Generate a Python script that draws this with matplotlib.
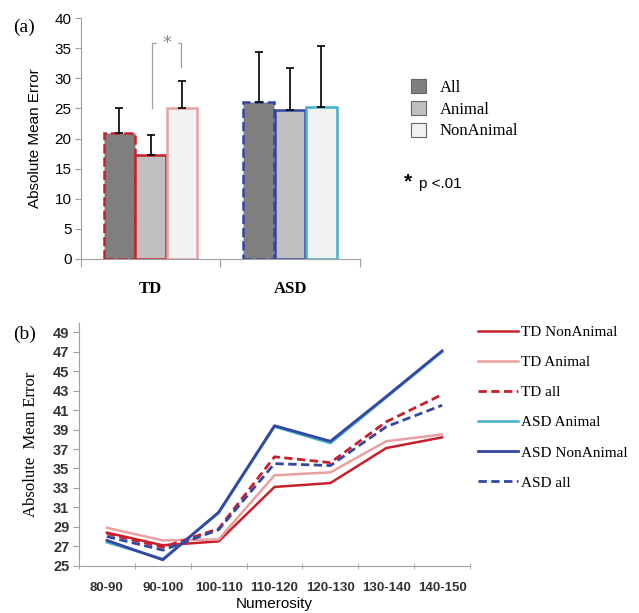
import numpy as np
import matplotlib
matplotlib.use("Agg")
import matplotlib.pyplot as plt
import matplotlib.patches as patches

# panel (a) data
groups = ["TD", "ASD"]
conditions = ["All", "Animal", "NonAnimal"]
means = {
    "All": [20.9, 26.0],
    "Animal": [17.2, 24.8],
    "NonAnimal": [25.0, 25.3],
}
errors = {
    "All": [4.1, 8.3],
    "Animal": [3.4, 6.9],
    "NonAnimal": [4.5, 10.0],
}

# panel (b) data
numerosity = ["80-90", "90-100", "100-110", "110-120", "120-130", "130-140", "140-150"]
td_nonanimal = [28.4, 27.1, 27.5, 33.1, 33.5, 37.1, 38.2]
td_animal = [28.9, 27.6, 27.7, 34.3, 34.6, 37.8, 38.5]
td_all = [28.3, 26.9, 28.8, 36.2, 35.6, 39.8, 42.6]
asd_animal = [27.4, 25.7, 30.4, 39.3, 37.6, 42.3, 47.0]
asd_nonanimal = [27.6, 25.6, 30.5, 39.4, 37.8, 42.4, 47.1]
asd_all = [28.0, 26.6, 28.7, 35.5, 35.3, 39.3, 41.5]

RED = "#c8202a"
PINK = "#e8a0a0"
BLUE = "#3547a0"
CYAN = "#3fb0d0"
GRAY = "#a0a0a0"
SERIF = "Liberation Serif"
SANS = "Liberation Sans"

fig = plt.figure(figsize=(6.39, 6.13), dpi=100)

# ---------- panel (a) ----------
ax1 = fig.add_axes([0.127, 0.5775, 0.436, 0.393])
fills = {"All": "#7f7f7f", "Animal": "#c0c0c0", "NonAnimal": "#f2f2f2"}
edges = {
    "All": [(RED, "--"), (BLUE, "--")],
    "Animal": [(RED, "-"), (BLUE, "-")],
    "NonAnimal": [(PINK, "-"), (CYAN, "-")],
}
offsets = {"All": -0.225, "Animal": 0.0, "NonAnimal": 0.225}
width = 0.22
x = np.arange(len(groups))
for cond in conditions:
    for i in range(len(groups)):
        ec, ls = edges[cond][i]
        ax1.bar(x[i] + offsets[cond], means[cond][i], width=width, color=fills[cond],
                edgecolor=ec, linestyle=ls, linewidth=1.8, zorder=2)
        ax1.errorbar(x[i] + offsets[cond], means[cond][i], yerr=[[0], [errors[cond][i]]],
                     fmt="none", ecolor="black", elinewidth=1.2, capsize=3, capthick=1.2, zorder=3)

# significance bracket TD Animal vs NonAnimal
bx0, bx1, btop = 0.01, 0.22, 35.8
ax1.plot([bx0, bx0, bx1, bx1], [25.0, btop, btop, 31.8], color=GRAY, lw=0.9, zorder=1)
ax1.text((bx0 + bx1) / 2, btop, "*", ha="center", va="center", fontsize=13, color="#888888",
         backgroundcolor="white", zorder=4)

ax1.set_xlim(-0.5, 1.5)
ax1.set_ylim(0, 40)
ax1.set_yticks(range(0, 41, 5))
ax1.set_xticks([-0.5, 0.5, 1.5])
ax1.set_xticklabels([])
ax1.tick_params(axis="x", length=6, color=GRAY, direction="out")
ax1.tick_params(axis="y", length=4, color=GRAY, labelsize=11, pad=3)
for lab in ax1.get_yticklabels():
    lab.set_family(SANS)
for i, g in enumerate(groups):
    ax1.text(x[i], -3.6, g, ha="center", va="top", fontsize=12, fontweight="bold", family=SERIF)
ax1.spines["top"].set_visible(False)
ax1.spines["right"].set_visible(False)
ax1.spines["left"].set_color(GRAY)
ax1.spines["bottom"].set_color(GRAY)
ax1.set_ylabel("Absolute Mean Error", fontsize=11, family=SANS, labelpad=9)

handles_a = [patches.Patch(facecolor=fills[c], edgecolor="#666666", linewidth=0.8) for c in conditions]
fig.legend(handles_a, conditions, loc="upper left", bbox_to_anchor=(0.62, 0.895),
           frameon=False, prop={"family": SERIF, "size": 12}, handlelength=0.9,
           handleheight=0.9, handletextpad=0.8, labelspacing=0.3)
fig.text(0.632, 0.703, "*", fontsize=15, fontweight="bold", family=SANS, va="center")
fig.text(0.656, 0.700, "p <.01", fontsize=11, family=SANS, va="center")
fig.text(0.02, 0.955, "(a)", fontsize=14, family=SERIF, va="center")

# ---------- panel (b) ----------
ax2 = fig.add_axes([0.1236, 0.0772, 0.612, 0.3964])
xi = np.arange(len(numerosity))
ax2.plot(xi, td_nonanimal, color=RED, lw=1.8, label="TD NonAnimal")
ax2.plot(xi, td_animal, color=PINK, lw=1.8, label="TD Animal")
ax2.plot(xi, td_all, color=RED, lw=2.0, ls=(0, (3, 1.6)), label="TD all")
ax2.plot(xi, asd_animal, color=CYAN, lw=1.8, label="ASD Animal")
ax2.plot(xi, asd_nonanimal, color=BLUE, lw=2.0, label="ASD NonAnimal")
ax2.plot(xi, asd_all, color=BLUE, lw=2.0, ls=(0, (3, 1.6)), label="ASD all")

ax2.set_xlim(-0.5, len(numerosity) - 0.5)
ax2.set_ylim(25, 50)
ax2.set_yticks(range(25, 50, 2))
ax2.set_xticks(xi)
ax2.set_xticklabels(numerosity)
ax2.set_xticks(np.arange(-0.5, len(numerosity)), minor=True)
ax2.tick_params(axis="x", which="major", length=0, labelsize=9.5, pad=12)
ax2.tick_params(axis="x", which="minor", length=5, color=GRAY, direction="inout")
ax2.tick_params(axis="y", length=4, color=GRAY, labelsize=10.5, pad=3)
for lab in ax2.get_xticklabels() + ax2.get_yticklabels():
    lab.set_family(SANS)
    lab.set_fontweight("bold")
    lab.set_color("#333333")
ax2.spines["top"].set_visible(False)
ax2.spines["right"].set_visible(False)
ax2.spines["left"].set_color(GRAY)
ax2.spines["bottom"].set_color(GRAY)
ax2.set_xlabel("Numerosity", fontsize=11, family=SANS, labelpad=2)
ax2.set_ylabel("Absolute  Mean Error", fontsize=12, family=SERIF, labelpad=10)

fig.legend(*ax2.get_legend_handles_labels(), loc="upper left", bbox_to_anchor=(0.727, 0.492),
           frameon=False, prop={"family": SERIF, "size": 11}, handlelength=2.6,
           handletextpad=0.2, labelspacing=1.08)
fig.text(0.02, 0.455, "(b)", fontsize=14, family=SERIF, va="center")

fig.savefig("out.png", dpi=100)
